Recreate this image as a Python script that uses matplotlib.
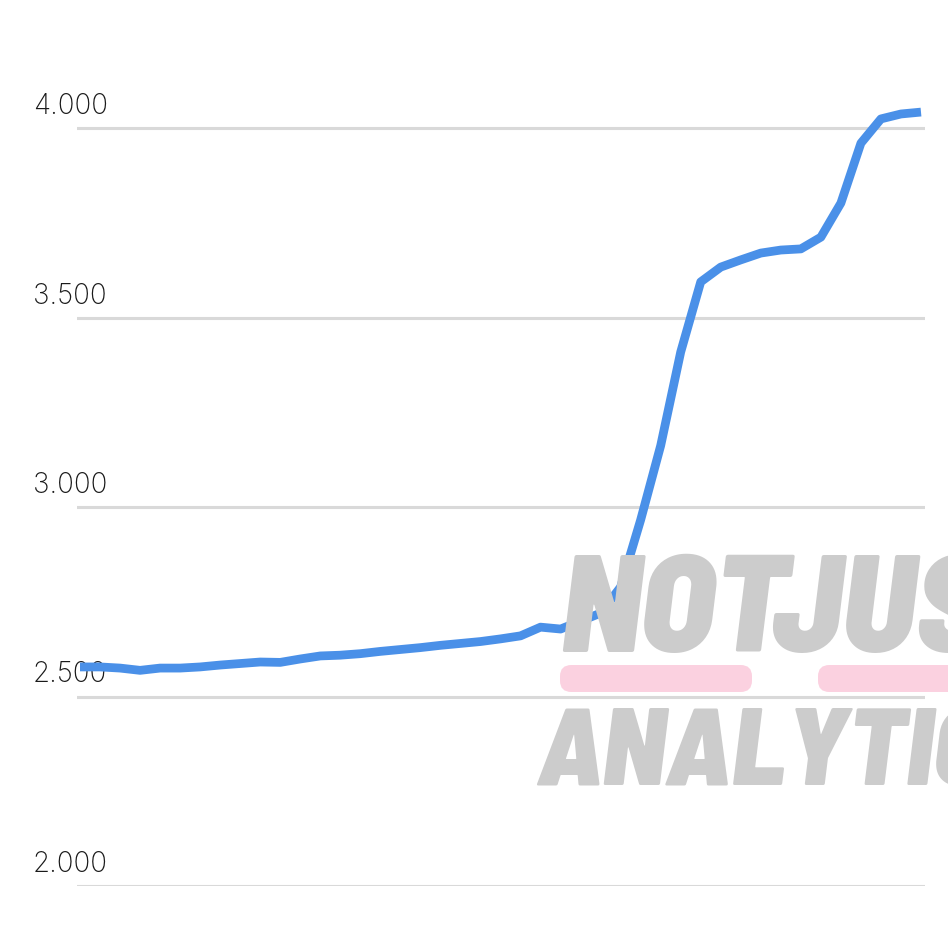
import matplotlib
matplotlib.use("Agg")
import matplotlib.pyplot as plt
from matplotlib.patches import FancyBboxPatch
from matplotlib.transforms import blended_transform_factory, offset_copy

# weekly values (43 points)
weeks = list(range(43))
values = [
    2578, 2578, 2575, 2569, 2575, 2575, 2578, 2583, 2587, 2591,
    2590, 2599, 2607, 2609, 2613, 2619, 2624, 2629, 2635, 2640,
    2645, 2652, 2660, 2683, 2678, 2699, 2720, 2789, 2966, 3162,
    3409, 3594, 3633, 3652, 3670, 3678, 3681, 3712, 3802, 3960,
    4024, 4037, 4042,
]
y_ticks = [2000, 2500, 3000, 3500, 4000]
y_tick_labels = ["2.000", "2.500", "3.000", "3.500", "4.000"]

W, H = 948, 934
fig = plt.figure(figsize=(W / 100, H / 100), dpi=100)

# axes placed so that gridlines span x 77..925, 2000 at y=886, 4000 at y=128
y_lo, y_hi = 2000, 4200
px_per_unit = (886 - 128) / 2000
top_px = 128 - (y_hi - 4000) * px_per_unit
ax = fig.add_axes([77 / W, (H - 886) / H, (925 - 77) / W, (886 - top_px) / H])
ax.set_xlim(-0.15, 42.2)
ax.set_ylim(y_lo, y_hi)
ax.axis("off")

for yt in y_ticks:
    ax.axhline(yt, color="#d9d9d9", lw=2.2, zorder=1)

# tick labels sit above the gridline, left aligned
trans = blended_transform_factory(fig.transFigure, ax.transData)
trans = offset_copy(trans, fig=fig, x=0, y=14, units="dots")
for yt, lab in zip(y_ticks, y_tick_labels):
    ax.text(33 / W, yt, lab, transform=trans, ha="left", va="baseline",
            fontsize=20, family="Inter", fontweight="light", color="#1a1a1a")

# watermark (logo words kerned tight like the original)
wm = dict(family="Barlow Semi Condensed", fontweight=900, style="italic",
          color="#cccccc", ha="left", va="baseline", zorder=0)
fig.text(560 / W, (H - 652) / H, "NOT", fontsize=100, **wm)
fig.text(770 / W, (H - 652) / H, "JUST", fontsize=100, **wm)
fig.text(536 / W, (H - 785) / H, "ANALYTICS", fontsize=79, **wm)
for x0, x1 in [(560, 752), (818, 990)]:
    fig.patches.append(FancyBboxPatch((x0 / W, (H - 692) / H), (x1 - x0) / W, 27 / H,
                                      boxstyle="round,pad=0,rounding_size=0.012",
                                      transform=fig.transFigure, facecolor="#fbd1e0",
                                      edgecolor="none", zorder=0))

ax.plot(weeks, values, color="#4a90e8", lw=6.3, solid_capstyle="butt",
        solid_joinstyle="round", zorder=3, clip_on=False)

fig.savefig("out.png", dpi=100, facecolor="white")
